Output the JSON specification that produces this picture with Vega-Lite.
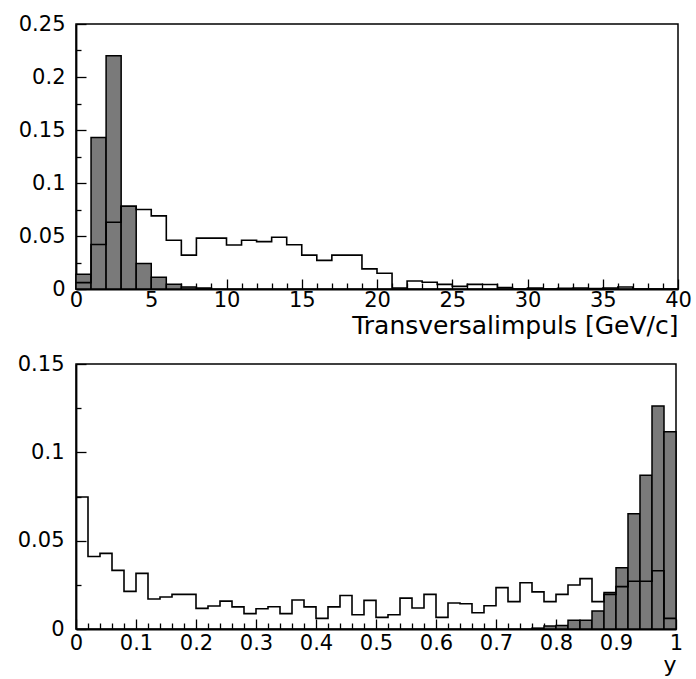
{
  "$schema": "https://vega.github.io/schema/vega-lite/v6.json",
  "padding": {"left": 16, "top": 12, "right": 2, "bottom": 0},
  "background": "white",
  "spacing": 75,
  "bounds": "flush",
  "config": {
    "view": {"stroke": "black", "strokeWidth": 1.5},
    "axis": {
      "labelFont": "DejaVu Sans",
      "labelFontSize": 21,
      "labelColor": "black",
      "titleFont": "DejaVu Sans",
      "titleFontSize": 25,
      "titleFontWeight": "normal",
      "titleColor": "black",
      "domainColor": "black",
      "domainWidth": 1.8,
      "tickColor": "black",
      "tickWidth": 1.3,
      "grid": false
    }
  },
  "datasets": {
    "ptHatch": [
      {"lo": 0, "hi": 1, "v": 0.014},
      {"lo": 1, "hi": 2, "v": 0.143},
      {"lo": 2, "hi": 3, "v": 0.22},
      {"lo": 3, "hi": 4, "v": 0.078},
      {"lo": 4, "hi": 5, "v": 0.024},
      {"lo": 5, "hi": 6, "v": 0.011},
      {"lo": 6, "hi": 7, "v": 0.0045},
      {"lo": 7, "hi": 8, "v": 0.002},
      {"lo": 8, "hi": 9, "v": 0.001}
    ],
    "ptOpen": [
      {"lo": 0, "hi": 1, "v": 0.006},
      {"lo": 1, "hi": 2, "v": 0.042},
      {"lo": 2, "hi": 3, "v": 0.063},
      {"lo": 3, "hi": 4, "v": 0.078},
      {"lo": 4, "hi": 5, "v": 0.075},
      {"lo": 5, "hi": 6, "v": 0.069},
      {"lo": 6, "hi": 7, "v": 0.046},
      {"lo": 7, "hi": 8, "v": 0.032},
      {"lo": 8, "hi": 9, "v": 0.048},
      {"lo": 9, "hi": 10, "v": 0.048},
      {"lo": 10, "hi": 11, "v": 0.0415},
      {"lo": 11, "hi": 12, "v": 0.046},
      {"lo": 12, "hi": 13, "v": 0.0447},
      {"lo": 13, "hi": 14, "v": 0.0488},
      {"lo": 14, "hi": 15, "v": 0.0418},
      {"lo": 15, "hi": 16, "v": 0.032},
      {"lo": 16, "hi": 17, "v": 0.027},
      {"lo": 17, "hi": 18, "v": 0.032},
      {"lo": 18, "hi": 19, "v": 0.032},
      {"lo": 19, "hi": 20, "v": 0.019},
      {"lo": 20, "hi": 21, "v": 0.0148},
      {"lo": 21, "hi": 22, "v": 0.001},
      {"lo": 22, "hi": 23, "v": 0.0075},
      {"lo": 23, "hi": 24, "v": 0.0063},
      {"lo": 24, "hi": 25, "v": 0.0044},
      {"lo": 25, "hi": 26, "v": 0.0025},
      {"lo": 26, "hi": 27, "v": 0.0044},
      {"lo": 27, "hi": 28, "v": 0.0042},
      {"lo": 28, "hi": 29, "v": 0.0013},
      {"lo": 29, "hi": 30, "v": 0.0},
      {"lo": 30, "hi": 31, "v": 0.0008},
      {"lo": 31, "hi": 32, "v": 0.0},
      {"lo": 32, "hi": 33, "v": 0.0007},
      {"lo": 33, "hi": 34, "v": 0.001},
      {"lo": 34, "hi": 35, "v": 0.0004},
      {"lo": 35, "hi": 36, "v": 0.0009},
      {"lo": 36, "hi": 37, "v": 0.0019},
      {"lo": 37, "hi": 38, "v": 0.0},
      {"lo": 38, "hi": 39, "v": 0.0},
      {"lo": 39, "hi": 40, "v": 0.0}
    ],
    "yHatch": [
      {"lo": 0.76, "hi": 0.78, "v": 0.0005},
      {"lo": 0.78, "hi": 0.80, "v": 0.0017},
      {"lo": 0.80, "hi": 0.82, "v": 0.002},
      {"lo": 0.82, "hi": 0.84, "v": 0.0049},
      {"lo": 0.84, "hi": 0.86, "v": 0.0049},
      {"lo": 0.86, "hi": 0.88, "v": 0.0102},
      {"lo": 0.88, "hi": 0.90, "v": 0.0206},
      {"lo": 0.90, "hi": 0.92, "v": 0.0347},
      {"lo": 0.92, "hi": 0.94, "v": 0.0653},
      {"lo": 0.94, "hi": 0.96, "v": 0.087},
      {"lo": 0.96, "hi": 0.98, "v": 0.1262},
      {"lo": 0.98, "hi": 1.0, "v": 0.1117}
    ],
    "yOpen": [
      {"lo": 0.0, "hi": 0.02, "v": 0.0747},
      {"lo": 0.02, "hi": 0.04, "v": 0.041},
      {"lo": 0.04, "hi": 0.06, "v": 0.0428},
      {"lo": 0.06, "hi": 0.08, "v": 0.0332},
      {"lo": 0.08, "hi": 0.10, "v": 0.0213},
      {"lo": 0.10, "hi": 0.12, "v": 0.0315},
      {"lo": 0.12, "hi": 0.14, "v": 0.017},
      {"lo": 0.14, "hi": 0.16, "v": 0.0181},
      {"lo": 0.16, "hi": 0.18, "v": 0.0196},
      {"lo": 0.18, "hi": 0.20, "v": 0.0196},
      {"lo": 0.20, "hi": 0.22, "v": 0.0117},
      {"lo": 0.22, "hi": 0.24, "v": 0.013},
      {"lo": 0.24, "hi": 0.26, "v": 0.0158},
      {"lo": 0.26, "hi": 0.28, "v": 0.0125},
      {"lo": 0.28, "hi": 0.30, "v": 0.0087},
      {"lo": 0.30, "hi": 0.32, "v": 0.0115},
      {"lo": 0.32, "hi": 0.34, "v": 0.0126},
      {"lo": 0.34, "hi": 0.36, "v": 0.0087},
      {"lo": 0.36, "hi": 0.38, "v": 0.0164},
      {"lo": 0.38, "hi": 0.40, "v": 0.0125},
      {"lo": 0.40, "hi": 0.42, "v": 0.006},
      {"lo": 0.42, "hi": 0.44, "v": 0.0125},
      {"lo": 0.44, "hi": 0.46, "v": 0.019},
      {"lo": 0.46, "hi": 0.48, "v": 0.0081},
      {"lo": 0.48, "hi": 0.50, "v": 0.0162},
      {"lo": 0.50, "hi": 0.52, "v": 0.0066},
      {"lo": 0.52, "hi": 0.54, "v": 0.0081},
      {"lo": 0.54, "hi": 0.56, "v": 0.0175},
      {"lo": 0.56, "hi": 0.58, "v": 0.0119},
      {"lo": 0.58, "hi": 0.60, "v": 0.0196},
      {"lo": 0.60, "hi": 0.62, "v": 0.0066},
      {"lo": 0.62, "hi": 0.64, "v": 0.0147},
      {"lo": 0.64, "hi": 0.66, "v": 0.0143},
      {"lo": 0.66, "hi": 0.68, "v": 0.0092},
      {"lo": 0.68, "hi": 0.70, "v": 0.0132},
      {"lo": 0.70, "hi": 0.72, "v": 0.0234},
      {"lo": 0.72, "hi": 0.74, "v": 0.0155},
      {"lo": 0.74, "hi": 0.76, "v": 0.0262},
      {"lo": 0.76, "hi": 0.78, "v": 0.021},
      {"lo": 0.78, "hi": 0.80, "v": 0.0155},
      {"lo": 0.80, "hi": 0.82, "v": 0.0196},
      {"lo": 0.82, "hi": 0.84, "v": 0.0249},
      {"lo": 0.84, "hi": 0.86, "v": 0.0285},
      {"lo": 0.86, "hi": 0.88, "v": 0.0155},
      {"lo": 0.88, "hi": 0.90, "v": 0.0196},
      {"lo": 0.90, "hi": 0.92, "v": 0.024},
      {"lo": 0.92, "hi": 0.94, "v": 0.027},
      {"lo": 0.94, "hi": 0.96, "v": 0.027},
      {"lo": 0.96, "hi": 0.98, "v": 0.033},
      {"lo": 0.98, "hi": 1.0, "v": 0.006}
    ]
  },
  "vconcat": [
    {
      "width": 602,
      "height": 265,
      "encoding": {
        "x": {
          "field": "lo",
          "type": "quantitative",
          "scale": {"domain": [0, 40], "nice": false, "zero": false},
          "axis": {
            "title": "Transversalimpuls [GeV/c]",
            "titleAnchor": "end",
            "titleAlign": "right",
            "titlePadding": -1,
            "values": [0,1,2,3,4,5,6,7,8,9,10,11,12,13,14,15,16,17,18,19,20,21,22,23,24,25,26,27,28,29,30,31,32,33,34,35,36,37,38,39,40],
            "labelExpr": "datum.value % 5 === 0 ? '' + datum.value : ''",
            "tickSize": {"condition": {"test": "datum.value % 5 === 0", "value": -10}, "value": -6},
            "labelPadding": 10,
            "labelOverlap": false,
            "labelFlush": false
          }
        },
        "y": {
          "field": "v",
          "type": "quantitative",
          "scale": {"domain": [0, 0.25], "nice": false},
          "axis": {
            "title": null,
            "values": [0, 0.025, 0.05, 0.075, 0.1, 0.125, 0.15, 0.175, 0.2, 0.225, 0.25],
            "labelExpr": "round(datum.value * 1000) % 50 === 0 ? '' + datum.value : ''",
            "tickSize": {"condition": {"test": "round(datum.value * 1000) % 50 === 0", "value": -10}, "value": -5},
            "labelPadding": 21,
            "labelOverlap": false,
            "labelFlush": false
          }
        }
      },
      "layer": [
        {
          "data": {"name": "ptHatch"},
          "mark": {"type": "bar", "fill": "#7a7a7a", "stroke": "black", "strokeWidth": 1.5},
          "encoding": {"x2": {"field": "hi"}, "y2": {"datum": 0}}
        },
        {
          "data": {"name": "ptOpen"},
          "transform": [{"fold": ["lo", "hi"], "as": ["edge", "lo"]}],
          "mark": {"type": "line", "color": "black", "strokeWidth": 1.6},
          "encoding": {
            "order": [{"field": "lo", "type": "quantitative"}, {"field": "edge", "type": "nominal"}]
          }
        }
      ]
    },
    {
      "width": 600,
      "height": 265,
      "encoding": {
        "x": {
          "field": "lo",
          "type": "quantitative",
          "scale": {"domain": [0, 1], "nice": false, "zero": false},
          "axis": {
            "title": "y",
            "titleFontSize": 22,
            "titleAnchor": "end",
            "titleAlign": "right",
            "titlePadding": -3,
            "values": [0,0.02,0.04,0.06,0.08,0.1,0.12,0.14,0.16,0.18,0.2,0.22,0.24,0.26,0.28,0.3,0.32,0.34,0.36,0.38,0.4,0.42,0.44,0.46,0.48,0.5,0.52,0.54,0.56,0.58,0.6,0.62,0.64,0.66,0.68,0.7,0.72,0.74,0.76,0.78,0.8,0.82,0.84,0.86,0.88,0.9,0.92,0.94,0.96,0.98,1],
            "labelExpr": "round(datum.value * 100) % 10 === 0 ? '' + datum.value : ''",
            "tickSize": {"condition": {"test": "round(datum.value * 100) % 10 === 0", "value": -10}, "value": -6},
            "labelPadding": 13,
            "labelOverlap": false,
            "labelFlush": false
          }
        },
        "y": {
          "field": "v",
          "type": "quantitative",
          "scale": {"domain": [0, 0.15], "nice": false},
          "axis": {
            "title": null,
            "values": [0, 0.025, 0.05, 0.075, 0.1, 0.125, 0.15],
            "labelExpr": "round(datum.value * 1000) % 50 === 0 ? '' + datum.value : ''",
            "tickSize": {"condition": {"test": "round(datum.value * 1000) % 50 === 0", "value": -10}, "value": -5},
            "labelPadding": 22,
            "labelOverlap": false,
            "labelFlush": false
          }
        }
      },
      "layer": [
        {
          "data": {"name": "yHatch"},
          "mark": {"type": "bar", "fill": "#7a7a7a", "stroke": "black", "strokeWidth": 1.5},
          "encoding": {"x2": {"field": "hi"}, "y2": {"datum": 0}}
        },
        {
          "data": {"name": "yOpen"},
          "transform": [{"fold": ["lo", "hi"], "as": ["edge", "lo"]}],
          "mark": {"type": "line", "color": "black", "strokeWidth": 1.6},
          "encoding": {
            "order": [{"field": "lo", "type": "quantitative"}, {"field": "edge", "type": "nominal"}]
          }
        }
      ]
    }
  ]
}
